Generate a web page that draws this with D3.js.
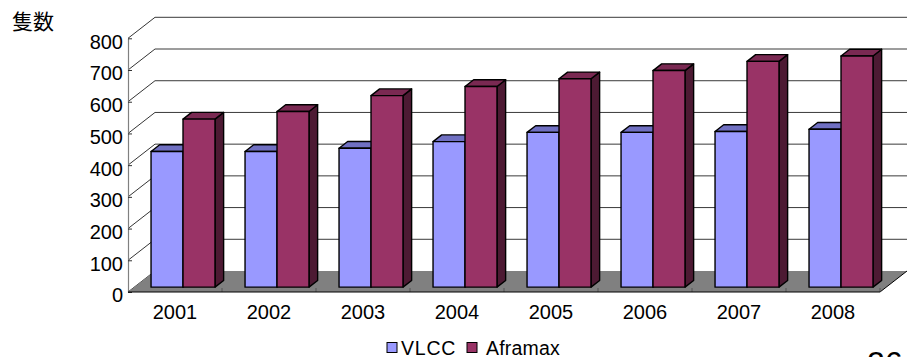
<!DOCTYPE html>
<html>
<head>
<meta charset="utf-8">
<script src="https://cdn.jsdelivr.net/npm/d3@7"></script>
<style>
  html, body { margin: 0; padding: 0; background: #fff; }
  svg { display: block; }
  text { font-family: "Liberation Sans", Arial, sans-serif; fill: #000; }
</style>
</head>
<body>
<svg id="chart" width="911" height="357"></svg>
<script>
// Tanker fleet counts per year (ships)
const years = ["2001", "2002", "2003", "2004", "2005", "2006", "2007", "2008"];
const seriesNames = ["VLCC", "Aframax"];
const vlccCounts = [428, 428, 438, 459, 488, 488, 491, 498];
const aframaxCounts = [530, 554, 604, 633, 657, 683, 712, 729];
const yTickValues = [0, 100, 200, 300, 400, 500, 600, 700, 800];
const yUnitLabel = "隻数";

const seriesValues = { VLCC: vlccCounts, Aframax: aframaxCounts };
const palette = {
  VLCC:    { front: "#9999ff", top: "#7070c2", side: "#4d4d80" },
  Aframax: { front: "#993366", top: "#7a2952", side: "#4d1a33" }
};

const svg = d3.select("#chart");

// Front plane of the 3-D box and its depth offset
const plotLeft = 128, plotRight = 880, plotBottom = 292, plotTop = 38.3;
const depthX = 27, depthY = 21;
const shift = (p, f) => [p[0] + f * depthX, p[1] - f * depthY];
const barFront = 0.23, barBack = 0.55;

const y = d3.scaleLinear().domain([0, 800]).range([plotBottom, plotTop]);
const x0 = d3.scaleBand().domain(years).range([plotLeft, plotRight]);
const x1 = d3.scaleBand().domain(seriesNames).range([0, x0.bandwidth()])
  .paddingInner(0).paddingOuter(0.47).align(0.56);

const line = d3.line();

// Left side wall: diagonals from each tick to the back wall
const walls = svg.append("g");
yTickValues.forEach(v => {
  const a = [plotLeft, y(v)], b = shift(a, 1);
  walls.append("path").attr("d", line([a, b]))
    .attr("stroke", "#000").attr("stroke-width", 0.8).attr("fill", "none");
});

// Floor
const floor = [[plotLeft, plotBottom], [plotRight, plotBottom], shift([plotRight, plotBottom], 1), shift([plotLeft, plotBottom], 1)];
walls.append("path").attr("d", line(floor) + "Z").attr("fill", "#808080").attr("stroke", "none");
walls.append("path").attr("d", line([[plotRight, plotBottom], shift([plotRight, plotBottom], 1)]))
  .attr("stroke", "#000").attr("stroke-width", 1).attr("fill", "none");

// Back wall gridlines
yTickValues.filter(v => v > 0).forEach(v => {
  const a = shift([plotLeft, y(v)], 1), b = shift([plotRight, y(v)], 1);
  walls.append("path").attr("d", line([a, b]))
    .attr("stroke", "#3a3a3a").attr("stroke-width", 1).attr("fill", "none");
});

// Category ticks on the floor edge
years.slice(1).concat([null]).forEach(yr => {
  const xx = yr ? x0(yr) : plotRight;
  walls.append("path").attr("d", line([[xx, plotBottom], [xx, plotBottom - 4]]))
    .attr("stroke", "#555").attr("stroke-width", 1).attr("fill", "none");
});

// 3-D columns
const bars = svg.append("g");
years.forEach((yr, i) => {
  seriesNames.forEach(name => {
    const v = seriesValues[name][i];
    const c = palette[name];
    const xl = x0(yr) + x1(name), xr = xl + x1.bandwidth();
    const fl = shift([xl, y(v)], barFront), fr = shift([xr, y(v)], barFront);
    const bl = shift([xl, y(0)], barFront), br = shift([xr, y(0)], barFront);
    const d = barBack - barFront;
    const topFace = [fl, fr, shift(fr, d), shift(fl, d)];
    const sideFace = [fr, br, shift(br, d), shift(fr, d)];
    const frontFace = [fl, fr, br, bl];
    [[sideFace, c.side], [topFace, c.top], [frontFace, c.front]].forEach(([pts, fill]) => {
      bars.append("path").attr("d", line(pts) + "Z")
        .attr("fill", fill).attr("stroke", "#000").attr("stroke-width", 1.4)
        .attr("stroke-linejoin", "round");
    });
  });
});

// Value axis
const yAxis = d3.axisLeft(y).tickValues(yTickValues).tickSize(-4).tickSizeOuter(0).tickPadding(5);
const gy = svg.append("g").attr("transform", `translate(${plotLeft},0)`).call(yAxis);
gy.select(".domain").attr("stroke", "#808080").attr("stroke-width", 1.2);
gy.selectAll(".tick line").attr("stroke", "#333");
gy.selectAll(".tick text")
  .attr("font-size", 20).attr("font-family", "Liberation Sans, Arial, sans-serif")
  .attr("fill", "#000").attr("y", 3.5);

// Front floor edge
svg.append("path").attr("d", line([[plotLeft, plotBottom], [plotRight, plotBottom]]))
  .attr("stroke", "#000").attr("stroke-width", 1.2).attr("fill", "none");

// Category labels
const xAxis = d3.axisBottom(x0).tickSize(0).tickPadding(13);
const gx = svg.append("g").attr("transform", `translate(0,${plotBottom})`).call(xAxis);
gx.select(".domain").remove();
gx.selectAll(".tick text")
  .attr("font-size", 20).attr("font-family", "Liberation Sans, Arial, sans-serif")
  .attr("fill", "#000");

// Unit label
svg.append("text").attr("x", 12).attr("y", 29)
  .attr("font-size", 21).style("font-family", "'Noto Sans CJK JP', sans-serif")
  .text(yUnitLabel);

// Legend
const legend = svg.append("g");
const legendX = [387, 467];
const legendTextGap = [14, 19];
seriesNames.forEach((name, i) => {
  legend.append("rect").attr("x", legendX[i]).attr("y", 342.5).attr("width", 10).attr("height", 10)
    .attr("fill", palette[name].front).attr("stroke", "#000").attr("stroke-width", 1);
  legend.append("text").attr("x", legendX[i] + legendTextGap[i]).attr("y", 354.5)
    .attr("font-size", 19.5).attr("letter-spacing", i === 0 ? 0.8 : 0.2).text(name);
});

// Page number peeking in at the bottom edge
svg.append("text").attr("x", 867).attr("y", 374).attr("font-size", 32).text("26");
</script>
</body>
</html>
